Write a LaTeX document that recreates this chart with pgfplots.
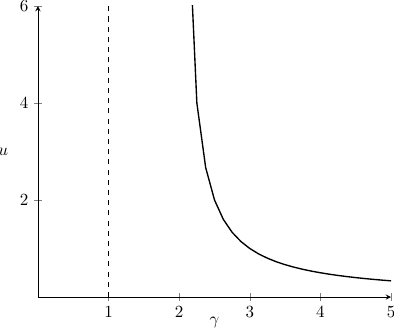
\documentclass[border=0pt]{standalone}
\usepackage{pgfplots}
\pgfplotsset{compat=1.18}
\begin{document}
\begin{tikzpicture}
\begin{axis}[
  scale only axis,
  width=207.65pt, height=171.18pt,
  axis lines=left,
  xmin=0, xmax=5, ymin=0, ymax=6,
  xtick={1,2,3,4,5},
  ytick={2,4,6},
  xlabel={$\gamma$},
  ylabel={$u$},
  xlabel style={yshift=7pt},
  ylabel style={rotate=-90},
  clip=true,
]
\addplot[thick, dashed, black] coordinates {(1,0) (1,6)};
\addplot[thick, black] coordinates {
(2.125,8) (2.25,4) (2.375,2.6667) (2.5,2) (2.625,1.6) (2.75,1.3333) (2.875,1.1429) (3,1)
(3.125,0.8889) (3.25,0.8) (3.375,0.7273) (3.5,0.6667) (3.625,0.6154) (3.75,0.5714)
(3.875,0.5333) (4,0.5) (4.125,0.4706) (4.25,0.4444) (4.375,0.4211) (4.5,0.4)
(4.625,0.3810) (4.75,0.3636) (4.875,0.3478) (5,0.3333)
};
\end{axis}
\pgfresetboundingbox
\path (-22.35pt,-19.41pt) rectangle (209.41pt,174.71pt);
\end{tikzpicture}
\end{document}
